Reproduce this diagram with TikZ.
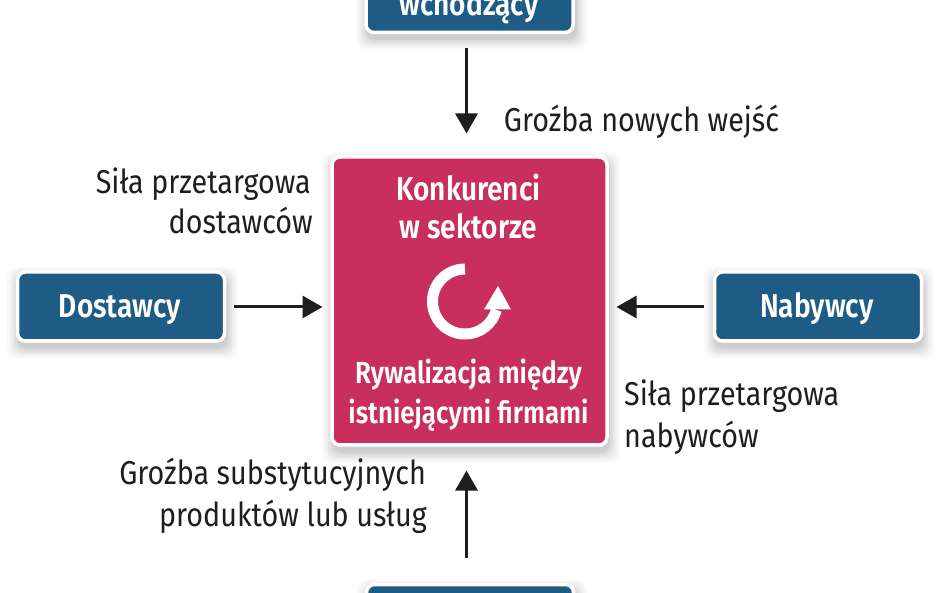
\documentclass[tikz,border=0pt]{standalone}
\usepackage{fontspec}
\setmainfont[FakeStretch=0.87]{Fira Sans}
\newfontfamily\boldf[FakeStretch=0.85]{Fira Sans SemiBold}
\usetikzlibrary{arrows.meta,calc}
\definecolor{bluebox}{HTML}{1F5C85}
\definecolor{redbox}{HTML}{C92F5C}
\definecolor{ink}{HTML}{1E1E1E}
\newcommand{\softshadow}[4]{%
  \foreach \g/\o in {11/.018,9/.022,7/.028,5/.034,3/.04,1/.05}{
    \fill[black,opacity=\o,rounded corners=10pt] ($(#1,#2)+(-\g+2,-\g+7)$) rectangle ($(#3,#4)+(\g+2,\g+7)$);}
}
\tikzset{
  boxbase/.style={draw=white,line width=3.5pt,rounded corners=8pt,anchor=north west,inner sep=0pt,outer sep=1.5pt},
  bluenode/.style={boxbase,fill=bluebox,minimum width=207pt,minimum height=69pt},
  rednode/.style={boxbase,fill=redbox,minimum width=275pt,minimum height=288pt},
  whitetext/.style={text=white,font=\boldf\fontsize{33}{38}\selectfont,align=center,inner sep=0pt,anchor=base},
  subtext/.style={whitetext,font=\boldf\fontsize{30.5}{36}\selectfont},
  lab/.style={text=ink,font=\fontsize{33}{43}\selectfont,inner sep=0pt},
  arrow/.style={draw=ink,line width=3pt,-{Triangle[length=20pt,width=22pt]}}
}
\begin{document}
\begin{tikzpicture}[x=1pt,y=-1pt]
\useasboundingbox (0,0) rectangle (948,593);
\clip (0,0) rectangle (948,593);
\fill[white] (0,0) rectangle (948,593);
\softshadow{365}{-40}{574}{32}
\softshadow{16}{271}{225}{341}
\softshadow{713}{271}{921}{341}
\softshadow{331}{156}{607}{445}
\softshadow{366}{583}{574}{660}
\node[bluenode] (top) at (364.5,-38) {};
\node[whitetext] (toptext) at (469,16) {wchodzący};
\node[bluenode] (dost) at (16,270.5) {};
\node[whitetext] (dostt) at (120,318) {Dostawcy};
\node[bluenode] (naby) at (713,270.5) {};
\node[whitetext] (nabyt) at (817,318) {Nabywcy};
\node[bluenode] (bott) at (365,583) {};
\node[rednode] (ctr) at (330.5,155.5) {};
\node[whitetext] (k1) at (468.5,200.5) {Konkurenci};
\node[whitetext] (k2) at (468.5,238.5) {w sektorze};
\node[subtext] (r1) at (468.5,384) {Rywalizacja między};
\node[subtext] (r2) at (468.5,424) {istniejącymi firmami};
% rotation icon
\draw[white,line width=11pt] (465,269) arc[start angle=-90,end angle=-345,radius=32.5];
\fill[white] (484,309.5) -- (498,286) -- (511,309.5) -- cycle;
% arrows
\coordinate (hl) at (0,307);
\coordinate (vl) at (466.5,0);
\coordinate (t1) at ($(top.south)+(0,14)$);
\coordinate (t2) at ($(ctr.north)+(0,-22)$);
\coordinate (d1) at ($(dost.east)+(8,0)$);
\coordinate (d2) at ($(ctr.west)+(-8,0)$);
\coordinate (n1c) at ($(naby.west)+(-9,0)$);
\coordinate (n2c) at ($(ctr.east)+(8,0)$);
\coordinate (b1) at ($(bott.north)+(0,-25)$);
\coordinate (b2) at ($(ctr.south)+(0,24)$);
\draw[arrow] (t1 -| vl) -- (t2 -| vl);
\draw[arrow] (d1 |- hl) -- (d2 |- hl);
\draw[arrow] (n1c |- hl) -- (n2c |- hl);
\draw[arrow] (b1 -| vl) -- (b2 -| vl);
% labels
\node[lab,anchor=base] (g) at (641.5,131.5) {Groźba nowych wejść};
\node[lab,anchor=base east] (s1) at (311,193.5) {Siła przetargowa};
\node[lab,anchor=base east] (s2) at (313,233.5) {dostawców};
\node[lab,anchor=base west] (n1) at (624,405.5) {Siła przetargowa};
\node[lab,anchor=base west] (n2) at (624,447.5) {nabywców};
\node[lab,anchor=base east] (p1) at (426,484.5) {Groźba substytucyjnych};
\node[lab,anchor=base east] (p2) at (427,526.5) {produktów lub usług};
\end{tikzpicture}
\end{document}
